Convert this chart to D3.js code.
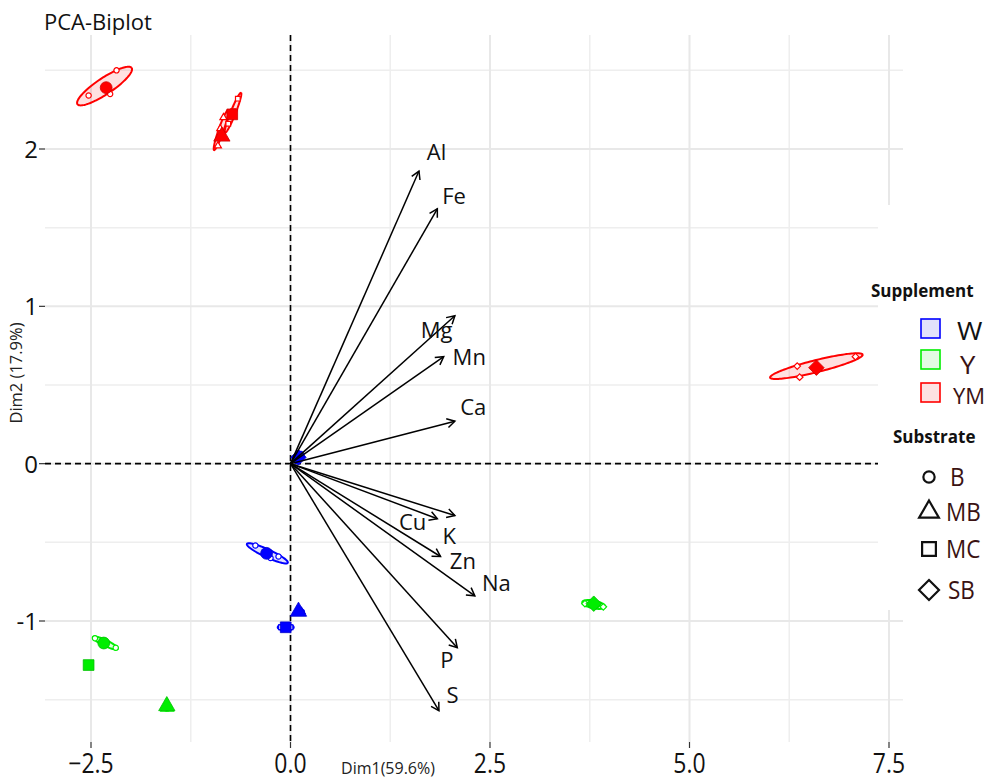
<!DOCTYPE html>
<html><head><meta charset="utf-8">
<script src="https://cdn.jsdelivr.net/npm/d3@7"></script>
<style>body{margin:0;background:#fff}svg{display:block}text{font-family:"Open Sans","Noto Sans",sans-serif}</style>
</head><body><svg id="c" width="992" height="780"></svg>
<script>
// ---- Data ----
const xTicks = [-2.5, 0.0, 2.5, 5.0, 7.5];
const yTicks = [-1, 0, 1, 2];
const xMinor = [-1.25, 1.25, 3.75, 6.25];
const yMinor = [-1.5, -0.5, 0.5, 1.5, 2.5];

const varNames = ["Al","Fe","Mg","Mn","Ca","K","Cu","Zn","Na","P","S"];
const varDim1  = [1.61, 1.84, 2.06, 1.92, 2.06, 2.06, 1.84, 1.88, 2.31, 2.09, 1.86];
const varDim2  = [1.86, 1.62, 0.94, 0.68, 0.27, -0.33, -0.35, -0.59, -0.84, -1.17, -1.57];
const labDim1  = [1.83, 2.05, 1.83, 2.24, 2.29, 1.99, 1.53, 2.16, 2.58, 1.96, 2.03];
const labDim2  = [1.98, 1.70, 0.85, 0.68, 0.36, -0.46, -0.37, -0.62, -0.76, -1.25, -1.47];

const supplements = ["W","Y","YM"];
const substrates  = ["B","MB","MC","SB"];
const suppColors  = ["#0000ff","#00ee00","#ff0000"];
const suppFills   = ["#e2e2fb","#e2fbe2","#fde2e2"];

// group means
const grpSupp  = ["YM","YM","YM","YM","W","W","W","W","Y","Y","Y","Y"];
const grpSub   = ["B","MB","MC","SB","B","MB","MC","SB","B","MB","MC","SB"];
const grpDim1  = [-2.31, -0.86, -0.73, 6.59, -0.30, 0.10, -0.06, 0.10, -2.34, -1.55, -2.53, 3.80];
const grpDim2  = [2.39, 2.08, 2.22, 0.61, -0.57, -0.94, -1.04, 0.04, -1.14, -1.54, -1.28, -0.89];
// ellipse: centre, major semi-axis vector (u), minor semi-axis vector (v), data units
const ellCx = [-2.33, -0.87, -0.72, 6.59, -0.29, 0.12, -0.06, 0.10, -2.32, -1.55, -2.53, 3.80];
const ellCy = [2.40, 2.12, 2.23, 0.62, -0.57, -0.94, -1.04, 0.04, -1.14, -1.55, -1.28, -0.895];
const ellUx = [0.34, 0.0875, 0.10, 0.58, 0.256, 0.05, 0.10, 0.06, 0.156, 0.05, 0.03, 0.144];
const ellUy = [0.115, 0.127, 0.127, 0.073, -0.060, 0.0, 0.0, 0.02, -0.038, 0.0, 0.0, -0.013];
const ellVx = [0.055, 0.0295, 0.029, 0.018, -0.021, 0.0, 0.0, 0.01, -0.016, 0.0, 0.0, 0.003];
const ellVy = [-0.043, -0.0053, -0.006, -0.037, -0.023, 0.015, 0.02, -0.03, -0.017, 0.02, 0.02, -0.025];

// individual samples
const repSupp = ["YM","YM","YM","YM","YM","YM","YM","YM","YM","YM","YM","YM",
                 "W","W","W","W","W","W","W","W","W","W","W","W",
                 "Y","Y","Y","Y","Y","Y","Y","Y","Y","Y","Y","Y"];
const repSub  = ["B","B","B","MB","MB","MB","MC","MC","MC","SB","SB","SB",
                 "B","B","B","MB","MB","MB","MC","MC","MC","SB","SB","SB",
                 "B","B","B","MB","MB","MB","MC","MC","MC","SB","SB","SB"];
const repDim1 = [-2.18,-2.53,-2.26, -0.88,-0.84,-0.91, -0.66,-0.78,-0.72, 6.35,6.38,7.08,
                 -0.44,-0.25,-0.15, 0.09,0.12,0.14, -0.12,0.00,-0.05, 0.06,0.13,0.10,
                 -2.45,-2.34,-2.19, -1.58,-1.51,-1.55, -2.54,-2.52,-2.51, 3.69,3.84,3.92];
const repDim2 = [2.50,2.34,2.35, 2.13,2.20,2.02, 2.32,2.16,2.24, 0.62,0.55,0.68,
                 -0.52,-0.60,-0.59, -0.93,-0.95,-0.94, -1.04,-1.04,-1.05, 0.04,0.05,0.02,
                 -1.11,-1.13,-1.17, -1.56,-1.56,-1.54, -1.29,-1.27,-1.29, -0.89,-0.90,-0.91];

// ---- Layout ----
const svg = d3.select("#c");
const x = d3.scaleLinear().domain([-2.5, 7.5]).range([91, 889]);
const y = d3.scaleLinear().domain([-1, 2]).range([621, 149]);
const L = 45, R = 903, T = 35, B = 742;

const squareDiamond = {draw(ctx, size) { const r = Math.sqrt(size / 2);
  ctx.moveTo(0, -r); ctx.lineTo(r, 0); ctx.lineTo(0, r); ctx.lineTo(-r, 0); ctx.closePath(); }};
const symType = {B: d3.symbolCircle, MB: d3.symbolTriangle, MC: d3.symbolSquare, SB: squareDiamond};
const colOf = s => suppColors[supplements.indexOf(s)];

// grid
const g = svg.append("g");
g.selectAll(".vmin").data(xMinor).join("line").attr("x1", d=>x(d)).attr("x2", d=>x(d)).attr("y1", T).attr("y2", B).attr("stroke", "#eeeeee").attr("stroke-width", 1.5);
g.selectAll(".hmin").data(yMinor).join("line").attr("y1", d=>y(d)).attr("y2", d=>y(d)).attr("x1", L).attr("x2", R).attr("stroke", "#eeeeee").attr("stroke-width", 1.5);
g.selectAll(".vmaj").data(xTicks).join("line").attr("x1", d=>x(d)).attr("x2", d=>x(d)).attr("y1", T).attr("y2", B).attr("stroke", "#e8e8e8").attr("stroke-width", 2);
g.selectAll(".hmaj").data(yTicks).join("line").attr("y1", d=>y(d)).attr("y2", d=>y(d)).attr("x1", L).attr("x2", R).attr("stroke", "#e8e8e8").attr("stroke-width", 2);

// axes ticks and labels
const ax = svg.append("g");
ax.selectAll(".xt").data(xTicks).join("line").attr("x1", d=>x(d)).attr("x2", d=>x(d)).attr("y1", B).attr("y2", B+6).attr("stroke", "#333").attr("stroke-width", 1.2);
ax.selectAll(".xl").data(xTicks).join("text")
  .attr("transform", d => `translate(${x(d)},${B+31}) scale(0.85,1)`)
  .attr("text-anchor", "middle").attr("font-size", 27).attr("fill", "#111")
  .text(d => d3.format(".1f")(d));
ax.selectAll(".yt").data(yTicks).join("line").attr("y1", d=>y(d)).attr("y2", d=>y(d)).attr("x1", L-6).attr("x2", L).attr("stroke", "#333").attr("stroke-width", 1.2);
ax.selectAll(".yl").data(yTicks).join("text")
  .attr("x", 38).attr("y", d => y(d)+9).attr("text-anchor", "end").attr("font-size", 24).attr("fill", "#111")
  .text(d => d);

svg.append("text").attr("x", 388).attr("y", 774).attr("text-anchor", "middle").attr("font-size", 16).attr("fill", "#222").text("Dim1(59.6%)");
svg.append("text").attr("transform", `translate(22,373) rotate(-90)`).attr("text-anchor", "middle").attr("font-size", 16.5).attr("fill", "#222").text("Dim2 (17.9%)");
svg.append("text").attr("x", 44).attr("y", 30).attr("font-size", 22).attr("fill", "#111").text("PCA-Biplot");

// dashed zero lines
svg.append("line").attr("x1", x(0)).attr("x2", x(0)).attr("y1", T).attr("y2", B).attr("stroke", "#000").attr("stroke-width", 1.6).attr("stroke-dasharray", "6,4");
svg.append("line").attr("x1", L).attr("x2", R).attr("y1", y(0)).attr("y2", y(0)).attr("stroke", "#000").attr("stroke-width", 1.6).attr("stroke-dasharray", "6,4");

// ellipses
const ts = d3.range(0, 2*Math.PI + 0.001, Math.PI/60);
const ellLine = d3.line().x(p=>p[0]).y(p=>p[1]);
const eg = svg.append("g");
grpSupp.forEach((s, i) => {
  const pts = ts.map(t => [x(ellCx[i] + ellUx[i]*Math.cos(t) + ellVx[i]*Math.sin(t)),
                           y(ellCy[i] + ellUy[i]*Math.cos(t) + ellVy[i]*Math.sin(t))]);
  eg.append("path").attr("d", ellLine(pts)).attr("fill", colOf(s)).attr("fill-opacity", 0.12)
    .attr("stroke", colOf(s)).attr("stroke-width", 2);
});

// individual points (small, hollow)
svg.append("g").selectAll("path").data(repDim1).join("path")
  .attr("transform", (d, i) => `translate(${x(d)},${y(repDim2[i])})`)
  .attr("d", (d, i) => d3.symbol().type(symType[repSub[i]]).size(22)())
  .attr("fill", "#fff").attr("stroke", (d, i) => colOf(repSupp[i])).attr("stroke-width", 1.2);

// group means
const meanSize = {B: 110, MB: 115, MC: 115, SB: 120};
svg.append("g").selectAll("path").data(grpDim1).join("path")
  .attr("transform", (d, i) => `translate(${x(d)},${y(grpDim2[i])})`)
  .attr("d", (d, i) => d3.symbol().type(symType[grpSub[i]]).size(meanSize[grpSub[i]])())
  .attr("fill", (d, i) => colOf(grpSupp[i])).attr("stroke", (d, i) => d3.color(colOf(grpSupp[i])).darker(0.6)).attr("stroke-width", 0.8);

// variable arrows
const ag = svg.append("g");
varNames.forEach((n, i) => {
  const x0 = x(0), y0 = y(0), x1 = x(varDim1[i]), y1 = y(varDim2[i]);
  const a = Math.atan2(y1 - y0, x1 - x0), h = 9, w = Math.PI/6;
  ag.append("line").attr("x1", x0).attr("y1", y0).attr("x2", x1).attr("y2", y1).attr("stroke", "#000").attr("stroke-width", 1.5);
  ag.append("path")
    .attr("d", `M${x1 - h*Math.cos(a - w)},${y1 - h*Math.sin(a - w)}L${x1},${y1}L${x1 - h*Math.cos(a + w)},${y1 - h*Math.sin(a + w)}`)
    .attr("fill", "none").attr("stroke", "#000").attr("stroke-width", 1.5);
  ag.append("text").attr("x", x(labDim1[i])).attr("y", y(labDim2[i]) + 8).attr("text-anchor", "middle")
    .attr("font-size", 22).attr("fill", "#111").text(n);
});

// ---- Legend (overlay) ----
const lg = svg.append("g");
lg.append("rect").attr("x", 878).attr("y", 205).attr("width", 114).attr("height", 405).attr("fill", "#fff");
lg.append("text").attr("x", 871).attr("y", 297).attr("font-size", 17).attr("font-weight", "bold").attr("fill", "#111").text("Supplement");
const suppLabY = [340, 374, 404];
const suppLabX = [957, 960, 953];
const suppLabSize = [25, 25, 22];
supplements.forEach((s, i) => {
  lg.append("rect").attr("x", 921).attr("y", [319, 350, 383][i]).attr("width", 19).attr("height", 19)
    .attr("fill", suppFills[i]).attr("stroke", suppColors[i]).attr("stroke-width", 1.6);
  lg.append("text").attr("transform", `translate(${suppLabX[i]},${suppLabY[i]}) scale(${i===2?1.0:1.1},1)`)
    .attr("font-size", suppLabSize[i]).attr("fill", i===0 ? "#111" : "#3a1212").text(s);
});
lg.append("text").attr("x", 893).attr("y", 443).attr("font-size", 17).attr("font-weight", "bold").attr("fill", "#111").text("Substrate");
const subKeyY = [477, 512, 549, 590];
const subLabX = [950, 946, 946, 948];
const subKeySize = [100, 170, 190, 200];
substrates.forEach((s, i) => {
  lg.append("path").attr("transform", `translate(929,${subKeyY[i]})`)
    .attr("d", d3.symbol().type(symType[s]).size(subKeySize[i])())
    .attr("fill", "none").attr("stroke", "#111").attr("stroke-width", 2.2);
  lg.append("text").attr("transform", `translate(${subLabX[i]},${subKeyY[i] + 9}) scale(0.9,1)`)
    .attr("font-size", 25).attr("fill", "#3a1212").text(s);
});
</script></body></html>
